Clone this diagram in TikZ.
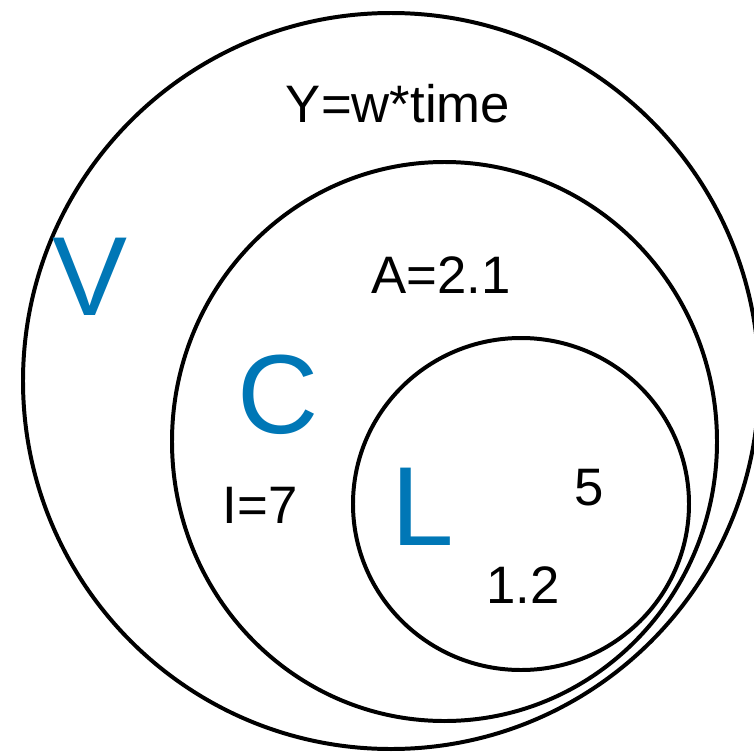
\documentclass[tikz,border=0pt]{standalone}
\usepackage{fontspec}
\setmainfont{Liberation Sans}
\definecolor{setblue}{RGB}{0,119,182}
\begin{document}
\begin{tikzpicture}[x=0.03cm,y=-0.03cm,
  ring/.style={line width=3.4pt,black},
  val/.style={font=\fontsize{45}{50}\selectfont,anchor=base,inner sep=0pt},
  setname/.style={font=\fontsize{96}{100}\selectfont,text=setblue,anchor=base,inner sep=0pt}]
\useasboundingbox (0,0) rectangle (754,752);
\draw[ring] (391,381) ellipse (368 and 368);
\draw[ring] (444.5,441.5) ellipse (272.5 and 279.5);
\draw[ring] (521,504) ellipse (168 and 166);
\node[setname] (v) at (90,315) {V};
\node[setname] (c) at (278,433) {C};
\node[setname] (l) at (423,545) {L};
\node[val] (y) at (398,122) {Y=w*time};
\node[val] (a) at (441,293) {A=2.1};
\node[val] (i) at (260,523) {I=7};
\node[val] (five) at (589,505) {5};
\node[val] (onetwo) at (523,603) {1.2};
\end{tikzpicture}
\end{document}
